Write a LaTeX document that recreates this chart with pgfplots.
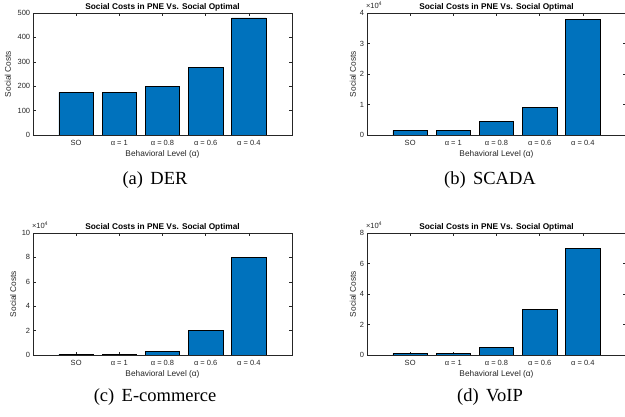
\documentclass[border=0pt]{standalone}
\usepackage{fontspec}
\setmainfont{Liberation Sans}
\newfontfamily\capfont{Liberation Serif}
\usepackage{pgfplots}
\pgfplotsset{compat=1.18}
\definecolor{mblue}{rgb}{0,0.447,0.741}
\definecolor{mgray}{rgb}{0.15,0.15,0.15}
\pgfplotsset{mstyle/.style={
  scale only axis, width=259pt, height=122pt,
  anchor=south west,
  xmin=0, xmax=6, ymin=0,
  xtick={1,2,3,4,5},
  xticklabels={SO, α = 1, α = 0.8, α = 0.6, α = 0.4},
  ybar, bar width=0.8,
  axis line style={mgray, line width=0.5pt},
  tick style={mgray, line width=0.5pt},
  tick align=inside, major tick length=3pt,
  /pgf/number format/assume math mode=true,
  ticklabel style={font=\fontsize{7.5}{8}\selectfont, text=mgray},
  xticklabel style={anchor=center, inner sep=0pt, yshift=-8pt},
  yticklabel style={anchor=east, inner sep=0pt, xshift=-2.7pt},
  xlabel={Behavioral Level (α)},
  ylabel={Social Costs},
  xlabel style={at={(axis description cs:0.5,0)}, anchor=center, yshift=-19.5pt, font=\fontsize{8.3}{9}\selectfont, text=mgray},
  title={Social Costs in PNE Vs. Social Optimal},
  every axis title shift=0pt,
  title style={at={(axis description cs:0.5,1)}, anchor=center, yshift=6pt, inner sep=0pt, font=\bfseries\fontsize{8.3}{9}\selectfont},
  every y tick scale label/.style={at={(rel axis cs:0,1)}, anchor=base west, inner sep=0pt, xshift=1.5pt, yshift=4pt, font=\fontsize{7.5}{8}\selectfont, text=mgray},
},
barstyle/.style={fill=mblue, draw=black, line width=0.7pt}
}
\begin{document}
\begin{tikzpicture}
\useasboundingbox (0,0) rectangle (625pt,417pt);
\clip (0,0) rectangle (625pt,417pt);
% (a) DER
\begin{axis}[mstyle, at={(33pt,282pt)}, ymax=500, ytick={0,100,200,300,400,500},
  ylabel style={at={(axis description cs:-0.0965,0.5)}, anchor=center, font=\fontsize{8.3}{9}\selectfont, text=mgray}]
\addplot[barstyle] coordinates {(1,175) (2,175) (3,200) (4,277) (5,480)};
\end{axis}
% (b) SCADA
\begin{axis}[mstyle, at={(367pt,282pt)}, ymax=40000, ytick={0,10000,20000,30000,40000},
  scaled y ticks=manual:{×10\textsuperscript{4}}{\pgfmathparse{#1/10000}},
  ylabel style={at={(axis description cs:-0.054,0.5)}, anchor=center, font=\fontsize{8.3}{9}\selectfont, text=mgray}]
\addplot[barstyle] coordinates {(1,1500) (2,1500) (3,4500) (4,9000) (5,38000)};
\end{axis}
% (c) E-commerce
\begin{axis}[mstyle, at={(33pt,62pt)}, ymax=100000, ytick={0,20000,40000,60000,80000,100000},
  scaled y ticks=manual:{×10\textsuperscript{4}}{\pgfmathparse{#1/10000}},
  ylabel style={at={(axis description cs:-0.077,0.5)}, anchor=center, font=\fontsize{8.3}{9}\selectfont, text=mgray}]
\addplot[barstyle] coordinates {(1,800) (2,800) (3,3000) (4,20000) (5,80000)};
\end{axis}
% (d) VoIP
\begin{axis}[mstyle, at={(367pt,62pt)}, ymax=80000, ytick={0,20000,40000,60000,80000},
  scaled y ticks=manual:{×10\textsuperscript{4}}{\pgfmathparse{#1/10000}},
  ylabel style={at={(axis description cs:-0.054,0.5)}, anchor=center, font=\fontsize{8.3}{9}\selectfont, text=mgray}]
\addplot[barstyle] coordinates {(1,900) (2,900) (3,5000) (4,30000) (5,70000)};
\end{axis}
\node[anchor=base, font=\capfont\fontsize{18.5}{20}\selectfont] at (155pt,232pt) {(a)\hspace{0.4em}DER};
\node[anchor=base, font=\capfont\fontsize{18.5}{20}\selectfont] at (490pt,232pt) {(b)\hspace{0.4em}SCADA};
\node[anchor=base, font=\capfont\fontsize{18.5}{20}\selectfont] at (155pt,15pt) {(c)\hspace{0.4em}E-commerce};
\node[anchor=base, font=\capfont\fontsize{18.5}{20}\selectfont] at (490pt,15pt) {(d)\hspace{0.4em}VoIP};
\end{tikzpicture}
\end{document}
